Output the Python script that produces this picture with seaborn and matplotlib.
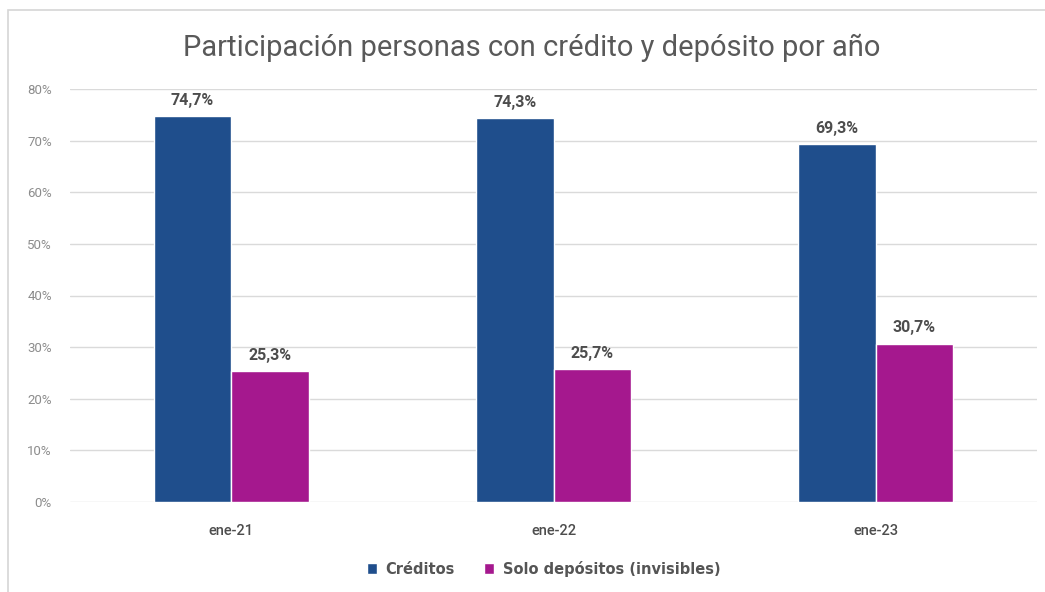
import matplotlib
matplotlib.use("Agg")
import matplotlib.pyplot as plt
from matplotlib.patches import Rectangle
from matplotlib.ticker import MultipleLocator, FuncFormatter
import seaborn as sns
import pandas as pd

# Data
periodos = ["ene-21", "ene-22", "ene-23"]
creditos = [74.7, 74.3, 69.3]
solo_depositos = [25.3, 25.7, 30.7]
series = ["Créditos", "Solo depósitos (invisibles)"]
colores = ["#1F4E8C", "#A5188E"]

df = pd.DataFrame({
    "periodo": periodos * 2,
    "serie": [series[0]] * 3 + [series[1]] * 3,
    "valor": [v / 100 for v in creditos + solo_depositos],
})

sns.set_theme(style="white")
plt.rcParams["font.family"] = ["Roboto", "DejaVu Sans"]

fig = plt.figure(figsize=(10.45, 5.92), dpi=100)
fig.patch.set_facecolor("white")

# card border
fig.patches.append(Rectangle((8 / 1045, -0.01), 1.05, 1 - 10 / 592 + 0.01,
                             transform=fig.transFigure, fill=False,
                             edgecolor="#D6D6D6", linewidth=1.2))

ax = fig.add_axes([70 / 1045, 1 - 502 / 592, (1037 - 70) / 1045, (502 - 89) / 592])

sns.barplot(data=df, x="periodo", y="valor", hue="serie", order=periodos,
            hue_order=series, palette=colores, width=0.48, saturation=1,
            ax=ax, legend=True, zorder=3)

ax.set_ylim(0, 0.8)
ax.set_xlim(-0.5, 2.5)
ax.yaxis.set_major_locator(MultipleLocator(0.1))
ax.yaxis.set_major_formatter(FuncFormatter(lambda v, p: f"{v * 100:.0f}%"))
ax.grid(axis="y", color="#DADADA", linewidth=1.0, zorder=0)
ax.set_axisbelow(True)
for s in ax.spines.values():
    s.set_visible(False)
ax.set_xlabel("")
ax.set_ylabel("")
ax.tick_params(axis="y", length=0, pad=13, labelsize=9.5, labelcolor="#8C8C8C")
ax.tick_params(axis="x", length=0, pad=16, labelsize=10.5, labelcolor="#4D4D4D")
for t in ax.get_xticklabels():
    t.set_fontweight("medium")

for cont in ax.containers:
    labels = [f"{b.get_height() * 100:.1f}%".replace(".", ",") for b in cont]
    ax.bar_label(cont, labels=labels, padding=6, fontsize=11.5,
                 fontweight="bold", color="#4D4D4D")

leg = ax.legend(loc="upper center", bbox_to_anchor=(0.49, -0.11), ncol=2,
                frameon=False,
                prop={"family": ["DejaVu Sans"], "size": 10.5, "weight": "bold"},
                handlelength=0.7, handleheight=0.7,
                handletextpad=0.6, columnspacing=2.0)
for t in leg.get_texts():
    t.set_color("#555555")

fig.text(532 / 1045, 1 - 48 / 592,
         "Participación personas con crédito y depósito por año",
         ha="center", va="center", fontsize=21, color="#595959")

fig.savefig("out.png", dpi=100)
